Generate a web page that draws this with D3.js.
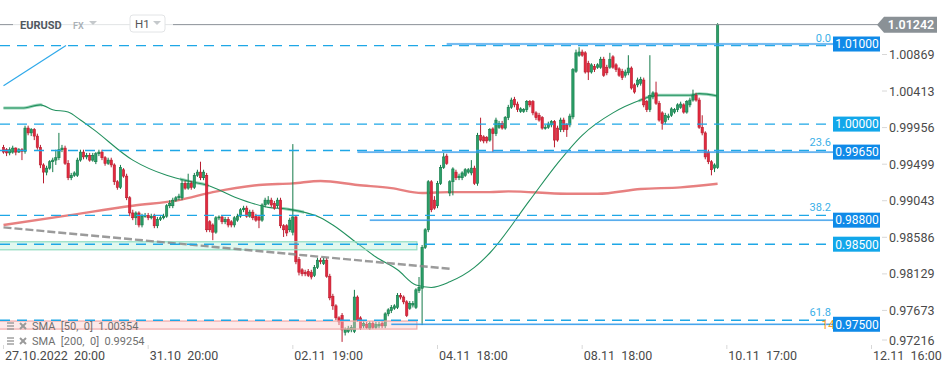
<!DOCTYPE html>
<html><head><meta charset="utf-8">
<script src="https://cdn.jsdelivr.net/npm/d3@7"></script>
<style>
html,body{margin:0;padding:0;background:#fff;}
svg{display:block;font-family:Roboto,"Noto Sans",sans-serif;}
</style></head><body>
<svg id="c" width="949" height="373"></svg>
<script>
// ---- DATA (EURUSD, H1) ----
const opens=[
.9971,.9968,.9964,.9965,.9970,.9965,.9968,.9966,.9995,.9989,
.9993,.9985,.9971,.9949,.9940,.9945,.9953,.9955,.9958,.9968,
.9970,.9951,.9933,.9936,.9936,.9955,.9965,.9959,.9961,.9955,
.9953,.9963,.9965,.9958,.9951,.9955,.9949,.9928,.9921,.9943,
.9935,.9908,.9889,.9883,.9889,.9874,.9885,.9886,.9883,.9885,
.9873,.9881,.9883,.9885,.9898,.9898,.9905,.9908,.9908,.9926,
.9920,.9926,.9921,.9936,.9940,.9933,.9936,.9878,.9874,.9865,
.9883,.9884,.9878,.9881,.9878,.9874,.9880,.9885,.9893,.9895,
.9885,.9890,.9885,.9884,.9880,.9899,.9901,.9905,.9901,.9898,
.9905,.9873,.9873,.9868,.9865,.9884,.9831,.9818,.9815,.9816,
.9815,.9811,.9821,.9830,.9826,.9830,.9810,.9785,.9773,.9758,
.9761,.9740,.9741,.9743,.9741,.9784,.9758,.9748,.9750,.9745,
.9751,.9746,.9748,.9751,.9748,.9763,.9767,.9770,.9771,.9786,
.9784,.9778,.9770,.9774,.9771,.9792,.9795,.9846,.9868,.9928,
.9905,.9898,.9926,.9946,.9960,.9914,.9928,.9940,.9933,.9933,
.9936,.9940,.9939,.9945,.9926,.9986,.9984,.9983,.9980,.9994,
.9988,.9996,1.0001,.9995,1.0008,1.0021,1.0031,1.0025,1.0016,1.0016,
1.0018,1.0028,1.0028,1.0014,1.0011,1.0008,.9995,.9996,.9999,1.0003,
.9995,.9993,1.0005,.9999,.9999,1.0009,1.0066,1.0086,1.0090,1.0089,
1.0076,1.0065,1.0072,1.0071,1.0071,1.0081,1.0071,1.0071,1.0084,1.0074,
1.0069,1.0066,1.0061,1.0064,1.0070,1.0049,1.0049,1.0051,1.0055,1.0028,
1.0018,1.0034,1.0039,1.0026,1.0014,1.0003,1.0008,1.0011,1.0015,1.0018,
1.0021,1.0024,1.0015,1.0024,1.0030,1.0036,1.0030,.9996,.9989,.9965,
.9953,.9945,.9946];
const closes=[
.9965,.9964,.9968,.9970,.9965,.9968,.9966,.9995,.9989,.9993,
.9985,.9971,.9949,.9940,.9945,.9953,.9955,.9958,.9968,.9970,
.9951,.9933,.9936,.9939,.9955,.9965,.9959,.9961,.9955,.9961,
.9963,.9965,.9958,.9951,.9955,.9949,.9928,.9921,.9946,.9935,
.9908,.9889,.9883,.9889,.9874,.9885,.9886,.9883,.9885,.9873,
.9881,.9883,.9885,.9898,.9901,.9905,.9908,.9910,.9926,.9920,
.9926,.9921,.9936,.9940,.9933,.9940,.9868,.9868,.9865,.9883,
.9884,.9878,.9881,.9874,.9874,.9883,.9885,.9893,.9895,.9885,
.9890,.9883,.9880,.9880,.9899,.9905,.9905,.9899,.9895,.9905,
.9873,.9868,.9864,.9880,.9884,.9828,.9815,.9813,.9813,.9811,
.9809,.9821,.9830,.9828,.9830,.9810,.9783,.9773,.9758,.9753,
.9743,.9744,.9745,.9746,.9784,.9755,.9745,.9751,.9746,.9751,
.9746,.9750,.9750,.9748,.9763,.9768,.9771,.9773,.9786,.9784,
.9778,.9761,.9776,.9776,.9793,.9796,.9846,.9868,.9928,.9893,
.9895,.9926,.9946,.9959,.9951,.9928,.9944,.9933,.9935,.9939,
.9943,.9943,.9945,.9926,.9986,.9980,.9979,.9979,.9993,.9988,
1.0005,1.0001,.9995,1.0008,1.0021,1.0030,1.0024,1.0018,1.0019,1.0018,
1.0028,1.0024,1.0014,1.0008,1.0005,.9995,.9996,1.0000,1.0003,.9980,
.9980,1.0005,.9993,.9993,1.0010,1.0068,1.0089,1.0090,1.0086,1.0065,
1.0065,1.0074,1.0068,1.0074,1.0081,1.0061,1.0064,1.0081,1.0071,1.0068,
1.0061,1.0058,1.0065,1.0070,1.0045,1.0040,1.0055,1.0056,1.0024,1.0018,
1.0036,1.0039,1.0026,1.0005,1.0001,1.0011,1.0010,1.0019,1.0018,1.0024,
1.0025,1.0015,1.0028,1.0030,1.0036,1.0030,.9996,.9989,.9959,.9953,
.9943,.9949,1.01242];
const highs=[
.9974,.9970,.9971,.9973,.9971,.9970,.9970,.9998,.9998,.9995,
.9995,.9988,.9974,.9951,.9948,.9955,.9958,.9968,.9989,.9974,
.9973,.9955,.9939,.9941,.9958,.9968,.9968,.9964,.9964,.9964,
.9965,.9968,.9968,.9960,.9958,.9958,.9951,.9930,.9949,.9945,
.9938,.9910,.9893,.9891,.9891,.9888,.9889,.9889,.9888,.9888,
.9884,.9885,.9888,.9900,.9905,.9908,.9910,.9913,.9930,.9929,
.9938,.9929,.9939,.9943,.9953,.9943,.9939,.9880,.9876,.9885,
.9886,.9886,.9884,.9884,.9880,.9885,.9888,.9895,.9898,.9898,
.9893,.9893,.9888,.9886,.9901,.9908,.9910,.9908,.9904,.9908,
.9908,.9875,.9875,.9883,.9975,.9886,.9834,.9820,.9818,.9819,
.9818,.9824,.9833,.9833,.9833,.9833,.9813,.9788,.9775,.9760,
.9764,.9746,.9748,.9749,.9793,.9786,.9760,.9754,.9753,.9754,
.9754,.9753,.9753,.9754,.9765,.9770,.9774,.9775,.9789,.9789,
.9786,.9780,.9779,.9779,.9795,.9809,.9849,.9870,.9930,.9930,
.9910,.9929,.9949,.9964,.9963,.9930,.9946,.9943,.9938,.9941,
.9945,.9945,.9955,.9948,.9989,1.0008,.9986,.9985,.9995,.9996,
1.0008,1.0004,1.0004,1.0010,1.0024,1.0033,1.0034,1.0028,1.0021,1.0020,
1.0030,1.0030,1.0030,1.0016,1.0014,1.0010,.9999,1.0003,1.0005,1.0005,
.9998,1.0008,1.0008,1.0001,1.0013,1.0070,1.0093,1.0096,1.0093,1.0091,
1.0079,1.0076,1.0075,1.0076,1.0084,1.0084,1.0074,1.0089,1.0086,1.0076,
1.0071,1.0069,1.0068,1.0086,1.0072,1.0051,1.0058,1.0059,1.0058,1.0030,
1.0086,1.0041,1.0053,1.0029,1.0016,1.0014,1.0013,1.0021,1.0020,1.0026,
1.0028,1.0026,1.0030,1.0033,1.0043,1.0039,1.0033,1.0011,.9991,.9968,
.9955,.9951,1.0126];
const lows=[
.9963,.9960,.9961,.9963,.9961,.9964,.9955,.9963,.9986,.9985,
.9980,.9968,.9945,.9926,.9936,.9943,.9940,.9949,.9955,.9965,
.9949,.9930,.9930,.9934,.9934,.9953,.9956,.9956,.9953,.9953,
.9950,.9960,.9955,.9948,.9949,.9946,.9924,.9918,.9919,.9933,
.9905,.9885,.9880,.9874,.9871,.9871,.9883,.9880,.9881,.9870,
.9870,.9879,.9881,.9883,.9895,.9895,.9903,.9905,.9905,.9918,
.9918,.9918,.9919,.9934,.9930,.9930,.9865,.9865,.9855,.9863,
.9880,.9875,.9875,.9871,.9871,.9871,.9878,.9883,.9890,.9883,
.9883,.9880,.9878,.9870,.9878,.9896,.9899,.9896,.9893,.9895,
.9870,.9859,.9860,.9865,.9861,.9825,.9811,.9810,.9810,.9809,
.9806,.9809,.9819,.9825,.9824,.9808,.9780,.9768,.9755,.9749,
.9728,.9736,.9739,.9740,.9739,.9753,.9743,.9745,.9744,.9743,
.9744,.9744,.9745,.9745,.9745,.9760,.9764,.9768,.9769,.9781,
.9775,.9759,.9768,.9771,.9769,.9789,.9749,.9844,.9865,.9890,
.9893,.9895,.9924,.9944,.9949,.9910,.9911,.9930,.9930,.9930,
.9934,.9938,.9936,.9924,.9923,.9978,.9976,.9976,.9978,.9965,
.9985,.9994,.9993,.9993,1.0005,1.0019,1.0021,1.0015,1.0014,1.0014,
1.0015,1.0021,1.0011,1.0005,1.0003,.9993,.9993,.9994,.9996,.9971,
.9978,.9990,.9990,.9984,.9996,1.0006,1.0064,1.0084,1.0084,1.0063,
1.0055,1.0063,1.0065,1.0069,1.0069,1.0059,1.0061,1.0069,1.0069,1.0065,
1.0059,1.0055,1.0058,1.0061,1.0043,1.0038,1.0046,1.0048,1.0021,1.0015,
1.0015,1.0031,1.0024,1.0003,.9993,1.0000,1.0005,1.0009,1.0013,1.0015,
1.0019,1.0013,1.0013,1.0021,1.0028,1.0028,.9994,.9986,.9956,.9950,
.9936,.9940,.9944];

const sma50Idx=[0,6,12,16,21,25,29,42,53,61,66,75,86,92,103,107,115,121,128,134,139,145,153,158,171,180,188,198,207,212,223,226,232];
const sma50Val=[1.0020,1.0020,1.0024,1.0018,1.0015,1.0005,.9994,.9955,.9936,.9928,.9924,.9909,.9896,.9894,.9883,.9874,.9851,.9834,.9818,.9799,.9796,.9803,.9821,.9839,.9905,.9951,.9986,1.0014,1.0030,1.0036,1.0036,1.0038,1.0035];
const sma50Glow=[[0,12],[58,66],[90,97],[207,232]];
const sma200Idx=[0,21,42,57,68,83,94,103,115,126,136,145,158,164,183,193,207,220,232];
const sma200Val=[.9874,.9886,.9898,.9905,.9915,.9924,.9926,.9929,.9924,.9920,.9914,.9915,.9915,.9916,.9913,.9913,.9919,.9921,.99254];

const yTicks=[1.00869,1.00413,0.99956,0.99499,0.99043,0.98586,0.98129,0.97673,0.97216];
const xTickIdx=[0,47,94,141,188,235,282];
const xTickLabels=["27.10.2022  20:00","31.10  20:00","02.11  19:00","04.11  18:00","08.11  18:00","10.11  17:00","12.11  16:00"];
const lastPrice=1.01242;
const solidLevels=[1.0100,0.9965,0.9880,0.9750];
const solidStart=[144,115,119,126];
const dashLevels=[1.0000,0.9850];
const fibHigh=1.0098, fibLow=0.9543;
const fibRatios=[0,0.236,0.382,0.618];
const fibNames=["0.0","23.6","38.2","61.8"];
const fibDiag=[[0,1.0048],[20.3,1.0098]];
const trendLine=[[0,0.9871],[145.7,0.9819]];
const greenZone={i0:-2,i1:134.3,p0:0.9853,p1:0.9843};
const redZone={i0:-2,i1:134.3,p0:0.9754,p1:0.9744};
const legendRows=["SMA  [50,  0]  1.00354","SMA  [200,  0]  0.99254"];

// ---- CHART ----
const svg=d3.select("#c");
const W=949,H=373,plotR=833;
const x=d3.scaleLinear().domain([0,282]).range([3.5,3.5+282*3.078]);
const y=d3.scaleLinear().domain([0.97216,1.00869]).range([347.0,54.5]);
const candles=opens.map((o,i)=>({i,o,c:closes[i],h:highs[i],l:lows[i]}));

const defs=svg.append("defs");
defs.append("clipPath").attr("id","pc").append("rect").attr("x",0).attr("y",0).attr("width",plotR).attr("height",350);
defs.append("clipPath").attr("id","oc").append("rect").attr("x",800).attr("y",300).attr("width",33).attr("height",40);
const plot=svg.append("g").attr("clip-path","url(#pc)");

// current price line
svg.append("line").attr("x1",0).attr("x2",880).attr("y1",y(lastPrice)).attr("y2",y(lastPrice))
  .attr("stroke","#8b9197").attr("stroke-width",1);

// SMA 200
const lineGen=d3.line().x(d=>x(d[0])).y(d=>y(d[1])).curve(d3.curveMonotoneX);
plot.append("path").datum(sma200Idx.map((d,k)=>[d,sma200Val[k]]))
  .attr("d",lineGen).attr("fill","none").attr("stroke","#e36a6a").attr("stroke-width",2.4).attr("opacity",0.85);

// SMA 50
const s50=sma50Idx.map((d,k)=>[d,sma50Val[k]]);
sma50Glow.forEach(r=>{
  const cp="g"+r[0];
  defs.append("clipPath").attr("id",cp).append("rect").attr("x",x(r[0])-2).attr("width",x(r[1])-x(r[0])+4).attr("y",0).attr("height",H);
  plot.append("g").attr("clip-path","url(#"+cp+")").append("path").datum(s50).attr("d",lineGen).attr("fill","none")
   .attr("stroke","#7fc9a6").attr("stroke-width",3).attr("opacity",0.8);
});
plot.append("path").datum(s50).attr("d",lineGen).attr("fill","none").attr("stroke","#23915f").attr("stroke-width",1.1);

// candles
const bw=2.3;
const cg=plot.append("g");
cg.selectAll("line.w").data(candles).join("line").attr("class","w")
  .attr("x1",d=>x(d.i)).attr("x2",d=>x(d.i)).attr("y1",d=>y(d.h)).attr("y2",d=>y(d.l))
  .attr("stroke",d=>d.c>=d.o?"#137a48":"#b81d2f").attr("stroke-width",1);
cg.selectAll("rect.b").data(candles).join("rect").attr("class","b")
  .attr("x",d=>x(d.i)-bw/2).attr("width",bw)
  .attr("y",d=>y(Math.max(d.o,d.c))).attr("height",d=>Math.max(1,Math.abs(y(d.o)-y(d.c))))
  .attr("fill",d=>d.c>=d.o?"#2b9e68":"#e3293e")
  .attr("stroke",d=>d.c>=d.o?"#137a48":"#b81d2f").attr("stroke-width",0.6);

// zones
[[greenZone,"rgba(170,235,210,0.35)","#93dcc0"],[redZone,"rgba(250,200,200,0.4)","#f0a8a8"]].forEach(([z,f,s])=>{
  plot.append("rect").attr("x",x(z.i0)).attr("width",x(z.i1)-x(z.i0))
   .attr("y",y(z.p0)).attr("height",y(z.p1)-y(z.p0))
   .attr("fill",f).attr("stroke",s).attr("stroke-width",1.2);
});

// gray trend line
plot.append("line").attr("x1",x(trendLine[0][0])).attr("y1",y(trendLine[0][1]))
  .attr("x2",x(trendLine[1][0])).attr("y2",y(trendLine[1][1]))
  .attr("stroke","#8a8a8a").attr("stroke-width",2.4).attr("stroke-dasharray","8,3").attr("opacity",0.85);

// fib diagonal
plot.append("line").attr("x1",x(fibDiag[0][0])).attr("y1",y(fibDiag[0][1]))
  .attr("x2",x(fibDiag[1][0])).attr("y2",y(fibDiag[1][1]))
  .attr("stroke","#2fa9ea").attr("stroke-width",1.2);

// fib dashed levels
const fibVals=fibRatios.map(r=>fibHigh-r*(fibHigh-fibLow));
fibVals.forEach((v,k)=>{
  svg.append("line").attr("x1",0).attr("x2",plotR).attr("y1",y(v)).attr("y2",y(v))
   .attr("stroke","#1ea7e6").attr("stroke-width",1.4).attr("stroke-dasharray","10,7");
  svg.append("text").attr("x",831).attr("y",y(v)-4).attr("text-anchor","end")
   .attr("font-size",11).attr("fill","#3bb0e8").text(fibNames[k]);
});
// dashed horizontal levels
dashLevels.forEach(v=>{
  svg.append("line").attr("x1",0).attr("x2",plotR).attr("y1",y(v)).attr("y2",y(v))
   .attr("stroke","#1ea7e6").attr("stroke-width",1.4).attr("stroke-dasharray","10,7");
});
// solid levels
solidLevels.forEach((v,k)=>{
  svg.append("line").attr("x1",x(solidStart[k])).attr("x2",plotR).attr("y1",y(v)).attr("y2",y(v))
   .attr("stroke","rgba(130,195,245,0.35)").attr("stroke-width",2.4);
  svg.append("line").attr("x1",x(solidStart[k])).attr("x2",plotR).attr("y1",y(v)).attr("y2",y(v))
   .attr("stroke","#1b8ee6").attr("stroke-width",1);
});

// orange partially hidden label
svg.append("g").attr("clip-path","url(#oc)").append("text").attr("x",835).attr("y",y(0.9750)+5)
  .attr("text-anchor","end").attr("font-size",12).attr("fill","#f5a02a").text("14");

// level boxes
function box(v,col){
  const g=svg.append("g");
  g.append("rect").attr("x",833).attr("y",y(v)-7.5).attr("width",47).attr("height",15).attr("fill",col);
  g.append("text").attr("x",857).attr("y",y(v)).attr("dy","0.36em").attr("text-anchor","middle")
   .attr("font-size",12).attr("fill","#fff").text(d3.format(".5f")(v));
}
solidLevels.forEach(v=>box(v,"#0f8ae8"));
dashLevels.forEach(v=>box(v,"#12a7ea"));

// right axis
yTicks.forEach(v=>{
  const yy=Math.min(y(v),340);
  svg.append("line").attr("x1",882).attr("x2",887).attr("y1",yy).attr("y2",yy).attr("stroke","#d8d8d8");
  svg.append("text").attr("x",889).attr("y",yy).attr("dy","0.36em").attr("font-size",12.5)
   .attr("fill","#4a4a4a").text(d3.format(".5f")(v));
});
// current price tag
const ly=y(lastPrice);
svg.append("path").attr("d",`M877,${ly} L884,${ly-8} L937,${ly-8} L937,${ly+8} L884,${ly+8} Z`).attr("fill","#8a9196");
svg.append("text").attr("x",911).attr("y",ly).attr("dy","0.36em").attr("text-anchor","middle")
  .attr("font-size",12.5).attr("font-weight",600).attr("fill","#fff").text(d3.format(".5f")(lastPrice));

// x axis
xTickIdx.forEach((t,k)=>{
  const xx=x(t);
  svg.append("line").attr("x1",xx).attr("x2",xx).attr("y1",345).attr("y2",349).attr("stroke","#d8d8d8");
  svg.append("text").attr("x",xx+1.5).attr("y",360).attr("font-size",12.5).attr("fill","#4a4a4a")
   .attr("xml:space","preserve").style("white-space","pre").text(xTickLabels[k]);
});

// legend
legendRows.forEach((t,k)=>{
  const yy=326+k*15;
  const g=svg.append("g").attr("fill","none").attr("stroke","#9a9a9a");
  [-3,0,3].forEach(o=>g.append("line").attr("x1",7).attr("x2",14).attr("y1",yy+o).attr("y2",yy+o).attr("stroke-width",1.4));
  g.append("line").attr("x1",20).attr("x2",26).attr("y1",yy-3).attr("y2",yy+3).attr("stroke-width",2);
  g.append("line").attr("x1",26).attr("x2",20).attr("y1",yy-3).attr("y2",yy+3).attr("stroke-width",2);
  svg.append("text").attr("x",32).attr("y",yy).attr("dy","0.36em").attr("font-size",11).attr("fill","#707070")
   .attr("xml:space","preserve").style("white-space","pre").text(t);
});

// header
svg.append("rect").attr("x",13).attr("y",14).attr("width",160).attr("height",21).attr("fill","rgba(255,255,255,0.75)");
svg.append("text").attr("x",20).attr("y",y(lastPrice)).attr("dy","0.36em").attr("font-size",11).attr("font-weight",700)
  .attr("fill","#505860").text("EURUSD");
svg.append("text").attr("x",73).attr("y",y(lastPrice)+1).attr("dy","0.36em").attr("font-size",9).attr("font-weight",600)
  .attr("fill","#a9b0b6").text("FX");
svg.append("path").attr("d","M89,21 L97,21 L93,25 Z").attr("fill","#c5c9cc");
svg.append("rect").attr("x",130).attr("y",15).attr("width",35).attr("height",17).attr("rx",3)
  .attr("fill","#fff").attr("stroke","#e2e4e6");
svg.append("text").attr("x",135).attr("y",24).attr("dy","0.36em").attr("font-size",11.5).attr("fill","#555").text("H1");
svg.append("path").attr("d","M153,21 L161,21 L157,25 Z").attr("fill","#c5c9cc");
</script></body></html>
